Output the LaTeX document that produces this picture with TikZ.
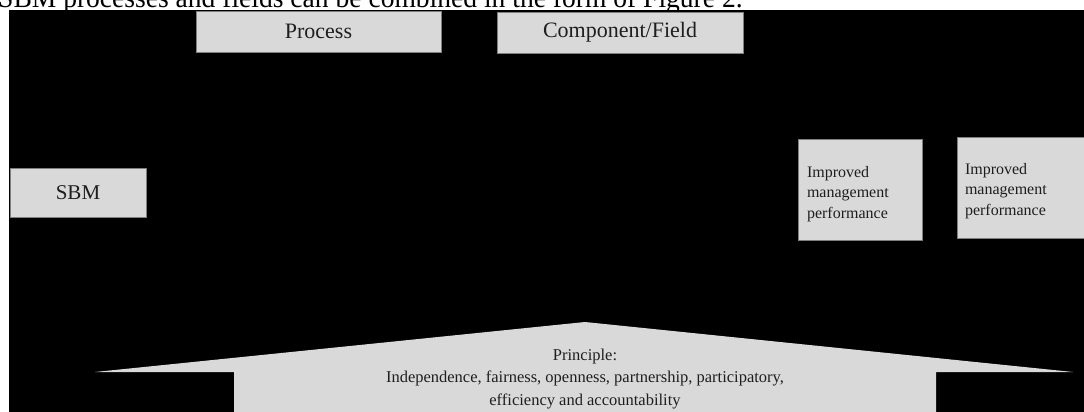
\documentclass[tikz,border=0pt]{standalone}
\usepackage{fontspec}
\setmainfont{Liberation Serif}
\definecolor{boxgray}{HTML}{D9D9D9}
\definecolor{edgegray}{HTML}{7F7F7F}
\definecolor{txt}{HTML}{1E1E1E}
\newcommand{\lowerby}[2]{\raisebox{-#1}[\height][\depth]{#2}}
\tikzset{
  gbox/.style={draw=edgegray, line width=0.9pt, fill=boxgray, text=txt, inner sep=0pt, outer sep=0pt},
  bigtxt/.style={font=\fontsize{22}{26}\selectfont},
  smalltxt/.style={font=\fontsize{16}{20.5}\selectfont}
}
\begin{document}
\begin{tikzpicture}[x=1pt,y=-1pt]
\useasboundingbox (0,0) rectangle (1084,412);
% caption line, cut off at the top
\node[anchor=base west, inner sep=0pt, font=\fontsize{29}{32}\selectfont, xscale=0.95] (caption) at (-2,8)
  {SBM processes and fields can be combined in the form of Figure 2.};
% black background
\fill[black] (9,10) rectangle (1090,420);
% top boxes
\node[gbox, bigtxt, minimum width=245pt, minimum height=41pt] (process) at (318.5,31.5) {Process};
\node[gbox, bigtxt, minimum width=246pt, minimum height=41pt] (field) at (620,32.5) {Component/Field};
% SBM
\node[gbox, font=\fontsize{21}{25}\selectfont, minimum width=136pt, minimum height=49pt] (sbm) at (78,192.5) {SBM};
% improved boxes
\node[gbox, smalltxt, minimum height=101pt, minimum width=124pt, inner xsep=9pt, text width=106pt] (imp1) at (860,189.5)
  {\lowerby{4pt}{\begin{tabular}{@{}l@{}}Improved\\management\\performance\end{tabular}}};
\node[gbox, smalltxt, minimum height=101pt, minimum width=138pt, inner xsep=8pt, text width=122pt] (imp2) at (1026,187.5)
  {\lowerby{3pt}{\begin{tabular}{@{}l@{}}Improved\\management\\performance\end{tabular}}};
% principle arrow
\fill[boxgray] (95,372) -- (585,322) -- (1073,372) -- (936,372) -- (936,420) -- (234,420) -- (234,372) -- cycle;
\node[text=txt, font=\fontsize{16.5}{22.5}\selectfont, align=center, anchor=base, inner sep=0pt] (principle) at (585,405)
  {Principle:\\Independence, fairness, openness, partnership, participatory,\\efficiency and accountability};
\end{tikzpicture}
\end{document}
